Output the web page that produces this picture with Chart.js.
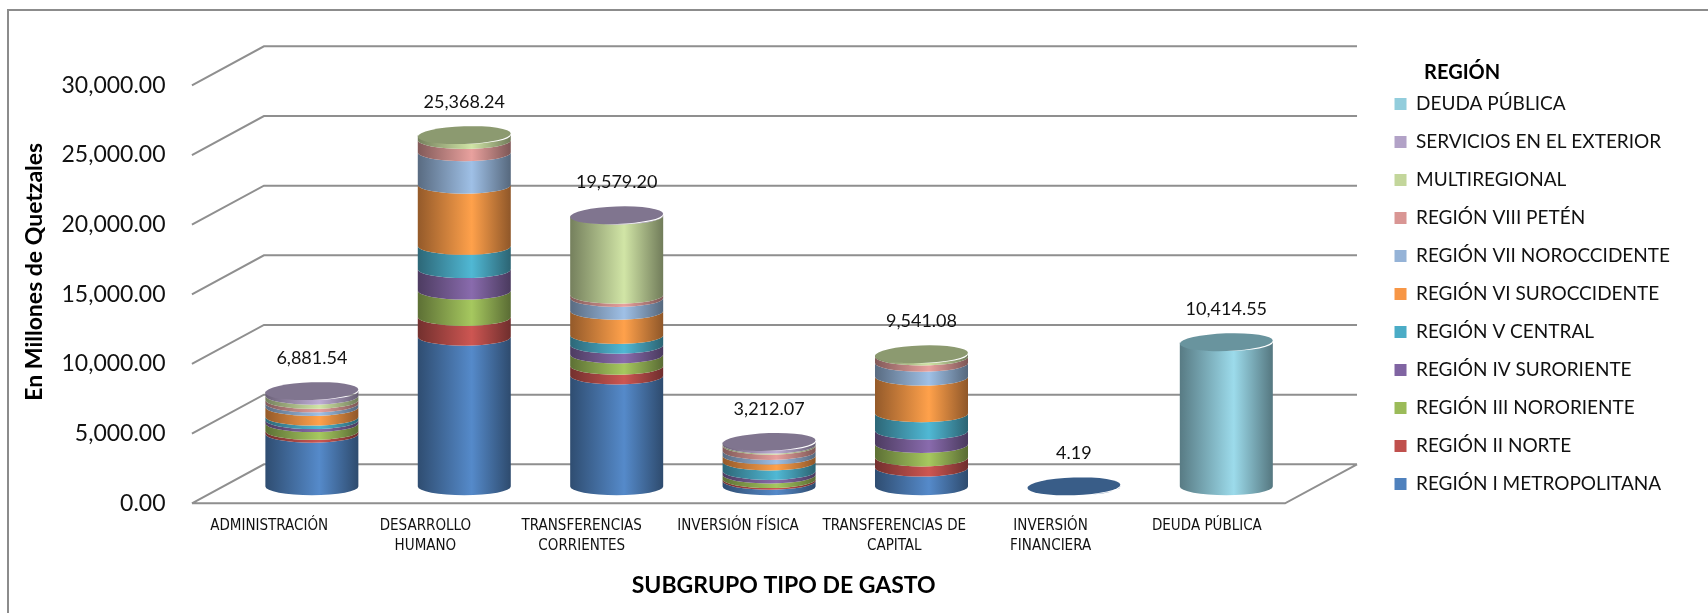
<!DOCTYPE html>
<html>
<head>
<meta charset="utf-8">
<script src="https://cdn.jsdelivr.net/npm/chart.js@4.4.0/dist/chart.umd.min.js"></script>
<style>
  html, body { margin: 0; padding: 0; background: #fff; }
</style>
</head>
<body>
<canvas id="gasto" width="1708" height="613"></canvas>
<script>
var categorias = [
    'ADMINISTRACIÓN',
    ['DESARROLLO', 'HUMANO'],
    ['TRANSFERENCIAS', 'CORRIENTES'],
    'INVERSIÓN FÍSICA',
    ['TRANSFERENCIAS DE', 'CAPITAL'],
    ['INVERSIÓN', 'FINANCIERA'],
    'DEUDA PÚBLICA'
];
var posiciones = [0, 1, 2, 3, 4, 5, 6];
var ticksY = [0, 5000, 10000, 15000, 20000, 25000, 30000];

// millones de quetzales, de abajo hacia arriba en cada cilindro
var metropolitana = [3800, 10800, 8000, 400, 1350, 4.19, 0];
var norte = [200, 1430, 700, 120, 730, 0, 0];
var nororiente = [560, 1900, 820, 330, 970, 0, 0];
var suroriente = [220, 1550, 700, 260, 970, 0, 0];
var central = [250, 1680, 700, 680, 1250, 0, 0];
var suroccidente = [700, 4420, 1750, 430, 2650, 0, 0];
var noroccidente = [260, 2340, 930, 330, 1000, 0, 0];
var peten = [250, 880, 230, 380, 450, 0, 0];
var multiregional = [300, 368.24, 5720, 80, 171.08, 0, 0];
var exterior = [341.54, 0, 29.2, 202.07, 0, 0, 0];
var deuda = [0, 0, 0, 0, 0, 0, 10414.55];

var regiones = ['REGIÓN I METROPOLITANA', 'REGIÓN II NORTE', 'REGIÓN III NORORIENTE',
    'REGIÓN IV SURORIENTE', 'REGIÓN V CENTRAL', 'REGIÓN VI SUROCCIDENTE',
    'REGIÓN VII NOROCCIDENTE', 'REGIÓN VIII PETÉN', 'MULTIREGIONAL',
    'SERVICIOS EN EL EXTERIOR', 'DEUDA PÚBLICA'];
var series = [metropolitana, norte, nororiente, suroriente, central, suroccidente,
    noroccidente, peten, multiregional, exterior, deuda];
var colores = ['#4F81BD', '#C0504D', '#9BBB59', '#8064A2', '#4BACC6', '#F79646',
    '#95B3D7', '#D99694', '#C3D69B', '#B2A2C7', '#92CDDC'];

var profX = 72, profY = -39;
var fuente = 'Lato, "Open Sans", sans-serif';
var fuenteEstrecha = '"Liberation Sans Narrow", "DejaVu Sans Condensed", "Roboto Condensed", sans-serif';

function tono(hex, f) {
    var r = parseInt(hex.substr(1, 2), 16);
    var g = parseInt(hex.substr(3, 2), 16);
    var b = parseInt(hex.substr(5, 2), 16);
    return 'rgb(' + Math.min(255, Math.round(r * f)) + ',' + Math.min(255, Math.round(g * f)) + ',' + Math.min(255, Math.round(b * f)) + ')';
}

function formato(v) {
    return v.toLocaleString('en-US', { minimumFractionDigits: 2, maximumFractionDigits: 2 });
}

var marco = {
    id: 'marco',
    beforeDraw: function (chart) {
        var ctx = chart.ctx;
        ctx.save();
        ctx.fillStyle = '#ffffff';
        ctx.fillRect(0, 0, chart.width, chart.height);
        ctx.strokeStyle = '#8c8c8c';
        ctx.lineWidth = 2;
        ctx.strokeRect(8, 10, chart.width, chart.height);
        ctx.restore();
    }
};

var paredes = {
    id: 'paredes',
    beforeDatasetsDraw: function (chart) {
        var ctx = chart.ctx, ys = chart.scales.y, xs = chart.scales.x;
        var x0 = chart.chartArea.left;
        var x1 = xs.getPixelForValue(posiciones.length - 0.5);
        ctx.save();
        ctx.strokeStyle = '#8f8f8f';
        ctx.lineWidth = 2;
        ctx.beginPath();
        ys.ticks.forEach(function (t) {
            var py = ys.getPixelForValue(t.value);
            ctx.moveTo(x0, py);
            ctx.lineTo(x0 + profX, py + profY);
            ctx.lineTo(x1 + profX, py + profY);
        });
        var y0 = ys.getPixelForValue(0);
        ctx.moveTo(x0, y0);
        ctx.lineTo(x1, y0);
        ctx.lineTo(x1 + profX, y0 + profY);
        ctx.stroke();
        ctx.restore();
    }
};

var cilindros = {
    id: 'cilindros',
    beforeDatasetDraw: function () {
        return false;
    },
    afterDatasetsDraw: function (chart) {
        var ctx = chart.ctx;
        ctx.save();
        posiciones.forEach(function (p, i) {
            var tapa = null, total = 0;
            chart.data.datasets.forEach(function (ds, d) {
                var v = ds.data[i];
                if (!v) return;
                total += v;
                var el = chart.getDatasetMeta(d).data[i];
                var rx = el.width / 2, ry = rx * 0.19;
                var g = ctx.createLinearGradient(el.x - rx, 0, el.x + rx, 0);
                g.addColorStop(0, tono(ds.backgroundColor, 0.6));
                g.addColorStop(0.58, tono(ds.backgroundColor, 1.07));
                g.addColorStop(1, tono(ds.backgroundColor, 0.58));
                ctx.fillStyle = g;
                ctx.beginPath();
                ctx.moveTo(el.x - rx, el.base);
                ctx.lineTo(el.x - rx, el.y);
                ctx.ellipse(el.x, el.y, rx, ry, 0, Math.PI, 0, true);
                ctx.lineTo(el.x + rx, el.base);
                ctx.ellipse(el.x, el.base, rx, ry, 0, 0, Math.PI, false);
                ctx.closePath();
                ctx.fill();
                tapa = { x: el.x, y: el.y, rx: rx, ry: ry, c: ds.backgroundColor };
            });
            if (tapa) {
                ctx.fillStyle = tono(tapa.c, 0.72);
                ctx.beginPath();
                ctx.ellipse(tapa.x, tapa.y, tapa.rx, tapa.ry, -0.035, 0, 2 * Math.PI);
                ctx.fill();

                ctx.fillStyle = '#111';
                ctx.font = '18px ' + fuente;
                ctx.textAlign = 'center';
                ctx.textBaseline = 'middle';
                ctx.fillText(formato(total), tapa.x, tapa.y - 33);
            }
        });
        ctx.restore();
    }
};

var datasets = regiones.map(function (r, k) {
    return {
        label: r,
        data: series[k],
        backgroundColor: colores[k],
        borderWidth: 0,
        barThickness: 93,
        xAxisID: 'xb',
        yAxisID: 'yb'
    };
});

new Chart(document.getElementById('gasto'), {
    type: 'bar',
    data: {
        labels: posiciones,
        datasets: datasets
    },
    options: {
        responsive: false,
        animation: false,
        devicePixelRatio: 1,
        layout: { padding: { top: 20, left: 10, right: 28, bottom: 14 } },
        plugins: {
            tooltip: { enabled: false },
            legend: {
                position: 'right',
                align: 'start',
                reverse: true,
                title: {
                    display: true,
                    text: '          REGIÓN',
                    position: 'start',
                    color: '#000',
                    font: { family: fuente, size: 20, weight: 'bold', lineHeight: 1 },
                    padding: { top: 42.5, bottom: -7 }
                },
                labels: {
                    boxWidth: 12,
                    boxHeight: 12,
                    padding: 19,
                    color: '#111',
                    font: { family: fuente, size: 19 }
                }
            }
        },
        scales: {
            x: {
                type: 'linear',
                offset: false,
                min: -0.494,
                max: 7.079,
                afterBuildTicks: function (s) {
                    s.ticks = posiciones.map(function (v) { return { value: v }; });
                },
                afterFit: function (s) {
                    s.paddingLeft = 0;
                    s.paddingRight = 0;
                },
                grid: { display: false, drawTicks: false, offset: false },
                border: { display: false },
                ticks: {
                    autoSkip: false,
                    maxRotation: 0,
                    minRotation: 0,
                    padding: 13,
                    color: '#111',
                    font: { family: fuenteEstrecha, size: 15, lineHeight: 1.33 },
                    callback: function (v) { return categorias[v]; }
                },
                title: {
                    display: true,
                    text: 'SUBGRUPO TIPO DE GASTO',
                    color: '#000',
                    font: { family: fuente, size: 23, weight: 'bold' },
                    padding: { top: 2.2, bottom: 0 }
                }
            },
            y: {
                type: 'linear',
                min: 0,
                max: 33242,
                afterBuildTicks: function (s) {
                    s.ticks = ticksY.map(function (v) { return { value: v }; });
                },
                grid: { display: false, drawTicks: false },
                border: { display: false },
                ticks: {
                    padding: 26.4,
                    color: '#111',
                    font: { family: fuente, size: 23 },
                    callback: function (v) { return formato(v); }
                },
                title: {
                    display: true,
                    text: 'En Millones de Quetzales',
                    color: '#000',
                    font: { family: fuente, size: 23, weight: 'bold' },
                    padding: { top: 11.2, bottom: -13.7 }
                }
            },
            xb: { type: 'linear', display: false, offset: false, grid: { offset: false }, stacked: true, min: -0.787, max: 6.979 },
            yb: { type: 'linear', display: false, stacked: true, min: -1219, max: 32222 }
        }
    },
    plugins: [marco, paredes, cilindros]
});
</script>
</body>
</html>
